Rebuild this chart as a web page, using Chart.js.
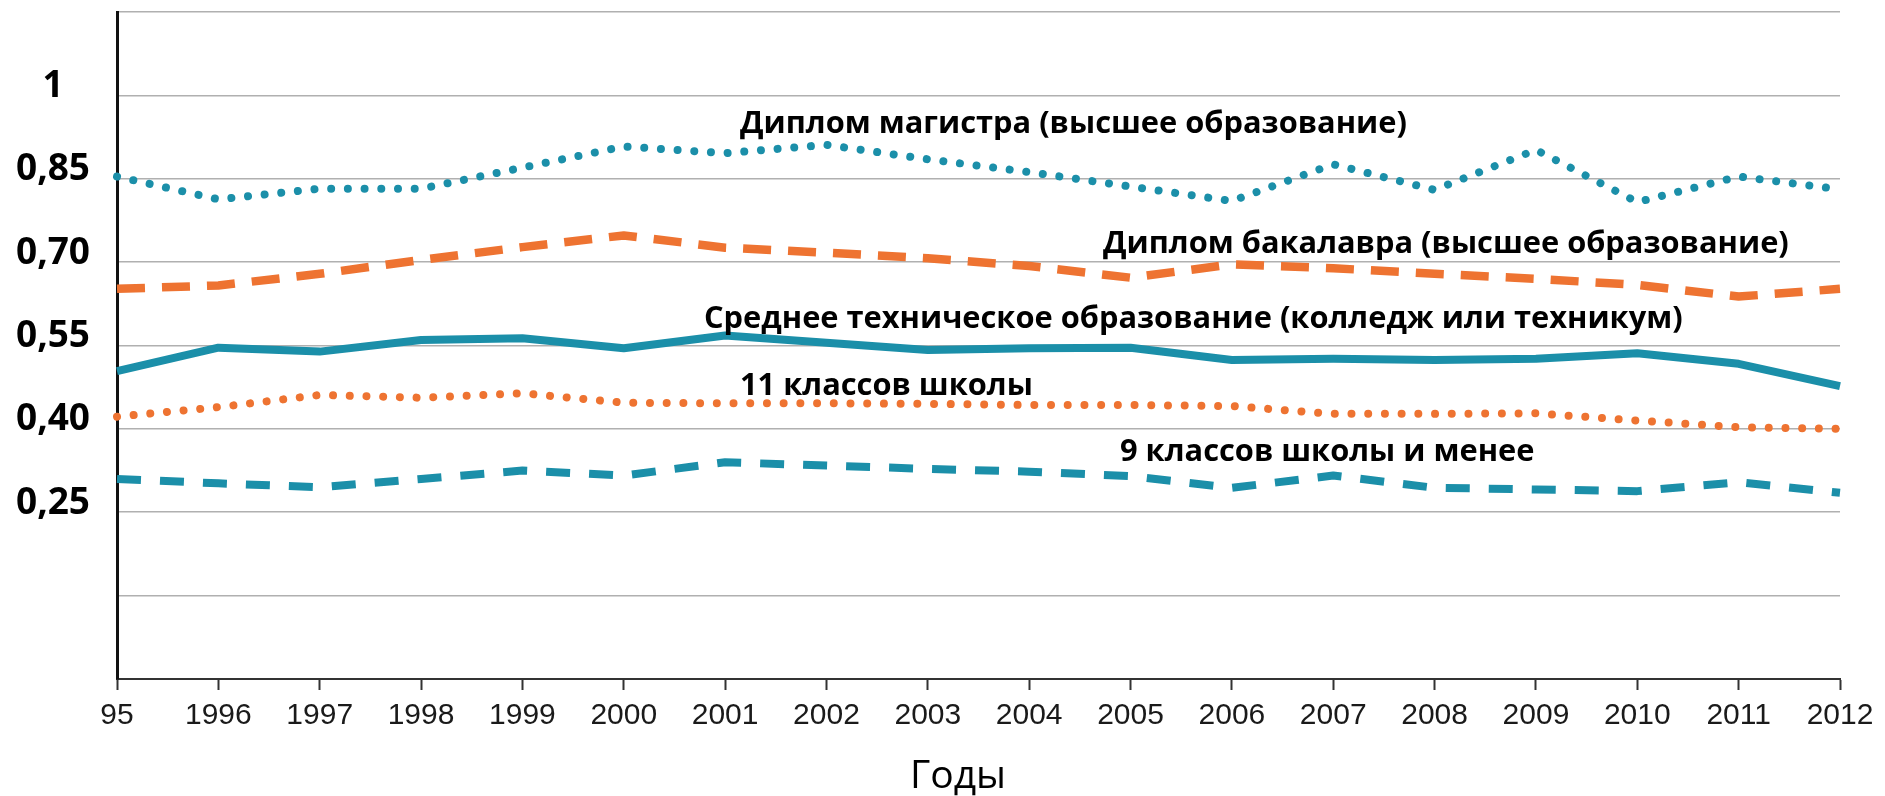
<!DOCTYPE html>
<html>
<head>
<meta charset="utf-8">
<script src="https://cdn.jsdelivr.net/npm/chart.js@4.4.1/dist/chart.umd.min.js"></script>
<style>
html, body { margin: 0; padding: 0; background: #ffffff; }
#wrap { position: relative; width: 1885px; height: 796px; overflow: hidden; }
#c { position: absolute; left: 0; top: 0; }
.note { position: absolute; font-family: 'Open Sans', sans-serif; font-weight: 700; font-size: 30.8px; line-height: 30px; white-space: nowrap; color: #000; }
.axtitle { position: absolute; width: 240px; text-align: center; font-family: 'Open Sans', sans-serif; font-weight: 400; font-size: 39px; line-height: 39px; white-space: nowrap; color: #000; }
</style>
</head>
<body>
<div id="wrap">
  <canvas id="c" width="1885" height="796"></canvas>
</div>
<script>
// ---- data ----
const years = [1995, 1996, 1997, 1998, 1999, 2000, 2001, 2002, 2003, 2004, 2005, 2006, 2007, 2008, 2009, 2010, 2011, 2012];
const xTickLabels = ['95', '1996', '1997', '1998', '1999', '2000', '2001', '2002', '2003', '2004', '2005', '2006', '2007', '2008', '2009', '2010', '2011', '2012'];

const seriesNames = [
  'Диплом магистра (высшее образование)',
  'Диплом бакалавра (высшее образование)',
  'Среднее техническое образование (колледж или техникум)',
  '11 классов школы',
  '9 классов школы и менее'
];

const masters   = [0.854, 0.813, 0.832, 0.832, 0.870, 0.908, 0.896, 0.911, 0.885, 0.862, 0.836, 0.810, 0.876, 0.830, 0.902, 0.808, 0.854, 0.831];
const bachelors = [0.652, 0.658, 0.679, 0.704, 0.727, 0.748, 0.726, 0.717, 0.707, 0.693, 0.672, 0.696, 0.689, 0.679, 0.670, 0.659, 0.638, 0.652];
const technical = [0.504, 0.546, 0.539, 0.560, 0.563, 0.545, 0.568, 0.555, 0.542, 0.545, 0.546, 0.524, 0.526, 0.524, 0.526, 0.536, 0.517, 0.477];
const school11  = [0.422, 0.439, 0.461, 0.456, 0.464, 0.447, 0.446, 0.446, 0.445, 0.443, 0.443, 0.441, 0.427, 0.427, 0.428, 0.415, 0.403, 0.400];
const school9   = [0.310, 0.302, 0.295, 0.310, 0.325, 0.316, 0.340, 0.334, 0.328, 0.323, 0.315, 0.294, 0.316, 0.294, 0.291, 0.288, 0.304, 0.285];

const yLabeledValues = [1, 0.85, 0.70, 0.55, 0.40, 0.25];
const yTickLabels    = ['1', '0,85', '0,70', '0,55', '0,40', '0,25'];
const xAxisTitle = 'Годы';

// ---- styles / layout ----
const TEAL = '#1b8fa9';
const ORANGE = '#ee7331';
const notePositions = [
  { left: 740,  baseline: 133 },
  { left: 1103, baseline: 253 },
  { left: 704,  baseline: 328 },
  { left: 740,  baseline: 395 },
  { left: 1120, baseline: 461 }
];

const wrap = document.getElementById('wrap');
seriesNames.forEach((name, i) => {
  const d = document.createElement('div');
  d.className = 'note';
  d.textContent = name;
  d.style.left = notePositions[i].left + 'px';
  d.style.top = (notePositions[i].baseline - 27) + 'px';
  wrap.appendChild(d);
});
const t = document.createElement('div');
t.className = 'axtitle';
t.textContent = xAxisTitle;
t.style.left = (958 - 120) + 'px';
t.style.top = (788 - 35) + 'px';
wrap.appendChild(t);

const ds = (label, data, color, width, dash) => ({
  label, data,
  borderColor: color,
  backgroundColor: color,
  borderWidth: width,
  borderDash: dash,
  borderCapStyle: dash.length && dash[0] < 1 ? 'round' : 'butt',
  borderJoinStyle: 'round',
  pointRadius: 0,
  pointHoverRadius: 0,
  tension: 0,
  fill: false
});

new Chart(document.getElementById('c'), {
  type: 'line',
  data: {
    labels: years,
    datasets: [
      ds(seriesNames[0], masters, TEAL, 8, [0.01, 16.7]),
      ds(seriesNames[1], bachelors, ORANGE, 8.5, [28, 17]),
      ds(seriesNames[2], technical, TEAL, 8, []),
      ds(seriesNames[3], school11, ORANGE, 8, [0.01, 16.7]),
      ds(seriesNames[4], school9, TEAL, 8, [24, 19])
    ]
  },
  options: {
    responsive: false,
    animation: false,
    events: [],
    layout: { padding: { left: 0, right: 45, top: 12, bottom: 0 } },
    plugins: {
      legend: { display: false },
      tooltip: { enabled: false },
      title: { display: false }
    },
    scales: {
      x: {
        type: 'category',
        offset: false,
        afterFit: (scale) => { scale.height = 117; },
        grid: {
          display: true,
          drawOnChartArea: false,
          drawTicks: true,
          tickLength: 11,
          color: '#333333',
          tickWidth: 2
        },
        border: { display: true, color: '#333333', width: 2 },
        ticks: {
          autoSkip: false,
          maxRotation: 0,
          minRotation: 0,
          padding: 8,
          color: '#1a1a1a',
          font: { family: "'Liberation Sans', Arial, sans-serif", size: 30 },
          callback: (v, i) => xTickLabels[i]
        },
        title: { display: false, text: xAxisTitle }
      },
      y: {
        min: -0.05,
        max: 1.15,
        afterFit: (scale) => { scale.width = 117; scale.paddingTop = 0; scale.paddingBottom = 0; },
        grid: {
          display: true,
          drawTicks: false,
          color: '#b0b0b0',
          lineWidth: 1.6
        },
        border: { display: true, color: '#111111', width: 3 },
        ticks: {
          stepSize: 0.15,
          padding: 27,
          crossAlign: 'center',
          labelOffset: -9,
          color: '#000000',
          font: { family: "'Open Sans', sans-serif", size: 37, weight: 'bold' },
          callback: (value) => {
            const v = Math.round(value * 100) / 100;
            const k = yLabeledValues.findIndex(t => Math.abs(t - v) < 1e-6);
            return k >= 0 ? yTickLabels[k] : '';
          }
        }
      }
    }
  }
});
</script>
</body>
</html>
